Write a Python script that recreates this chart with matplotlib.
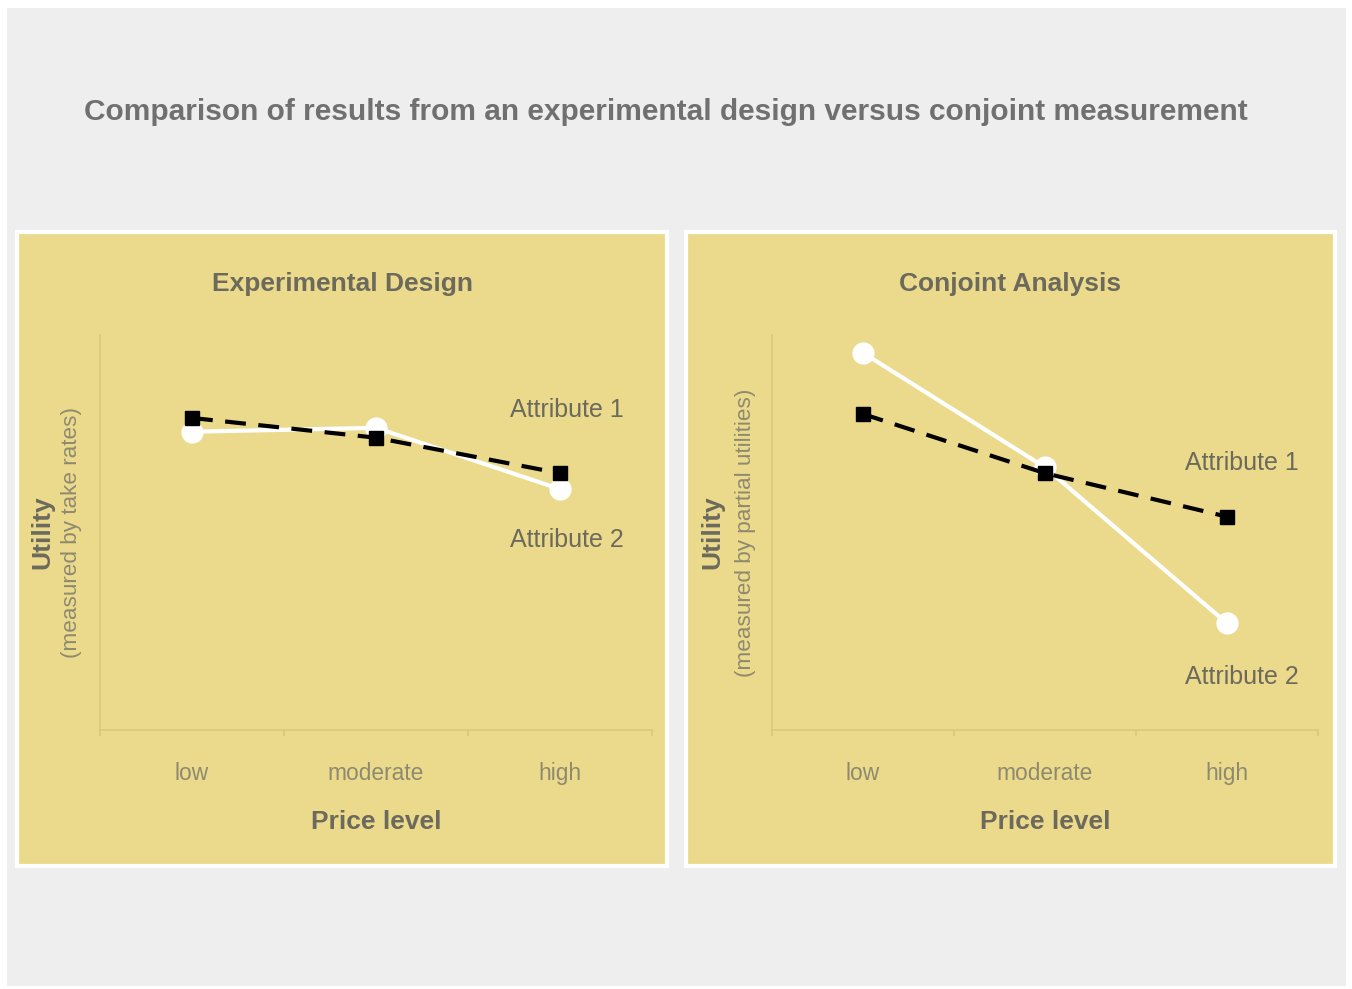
import matplotlib
matplotlib.use("Agg")
import matplotlib.pyplot as plt
from matplotlib.patches import Rectangle

W, H = 1352, 989

CATEGORIES = ["low", "moderate", "high"]
PANEL_TITLES = ["Experimental Design", "Conjoint Analysis"]
Y_SUBLABELS = ["(measured by take rates)", "(measured by partial utilities)"]
# utility on an arbitrary 0-10 scale
ATTR1 = [[7.9, 7.4, 6.5], [8.0, 6.5, 5.4]]
ATTR2 = [[7.55, 7.65, 6.1], [9.55, 6.65, 2.7]]
LABEL_POS = [[(1.73, 8.1), (1.73, 4.8)], [(1.77, 6.75), (1.77, 1.35)]]

YELLOW = "#ecda8c"
TEXT = "#6c6a5c"
TICK_TXT = "#8e8a70"
AXIS = "#d9c77c"

plt.rcParams["font.family"] = ["Liberation Sans", "DejaVu Sans"]

fig = plt.figure(figsize=(W / 100, H / 100), dpi=100, facecolor="white")


def px_rect(x0, y0, x1, y1, **kw):
    # pixel box (top-left origin) -> figure fraction rectangle
    return Rectangle((x0 / W, 1 - y1 / H), (x1 - x0) / W, (y1 - y0) / H,
                     transform=fig.transFigure, **kw)


fig.patches.append(px_rect(7, 8, 1346, 986, facecolor="#eeeeee", edgecolor="none", zorder=-3))
fig.text(666 / W, 1 - 112 / H,
         "Comparison of results from an experimental design versus conjoint measurement",
         ha="center", va="center", fontsize=21.5, fontweight="bold", color="#707070")

panels = [(17, 667, 100, 652), (686, 1335, 772, 1318)]
for i, (p0, p1, a0, a1) in enumerate(panels):
    fig.patches.append(px_rect(p0, 232, p1, 866, facecolor=YELLOW, edgecolor="white",
                               lw=3, zorder=-2))
    fig.text((p0 + p1) / 2 / W, 1 - 284 / H, PANEL_TITLES[i], ha="center", va="center",
             fontsize=19, fontweight="bold", color=TEXT)

    ax = fig.add_axes([a0 / W, 1 - 730 / H, (a1 - a0) / W, 395 / H])
    ax.set_facecolor("none")
    ax.set_xlim(-0.5, 2.5)
    ax.set_ylim(0, 10)
    for s in ("top", "right"):
        ax.spines[s].set_visible(False)
    for s in ("left", "bottom"):
        ax.spines[s].set_color(AXIS)
        ax.spines[s].set_linewidth(1.2)
    ax.set_yticks([])
    ax.set_xticks([-0.5, 0.5, 1.5, 2.5], ["", "", "", ""])
    ax.tick_params(axis="x", which="major", length=4, color=AXIS, width=1.2)
    ax.set_xticks([0, 1, 2], CATEGORIES, minor=True)
    ax.tick_params(axis="x", which="minor", length=0, pad=23, labelsize=16.4,
                   labelcolor=TICK_TXT)

    x = range(len(CATEGORIES))
    ax.plot(x, ATTR2[i], "-o", color="white", lw=3, ms=15, mec="white", zorder=3,
            clip_on=False)
    ax.plot(x, ATTR1[i], "--s", color="black", lw=3, ms=10, dashes=(5, 3), zorder=4,
            clip_on=False)
    for j, (lx, ly) in enumerate(LABEL_POS[i]):
        ax.text(lx, ly, f"Attribute {j + 1}", ha="left", va="center", fontsize=18,
                color=TEXT)

    aw = a1 - a0
    off = 0 if i == 0 else 670
    ax.text((42 + off - a0) / aw, 0.5, "Utility", transform=ax.transAxes, rotation=90,
            ha="center", va="center", fontsize=19, fontweight="bold", color=TEXT)
    ax.text((72 + off + 4 * i - a0) / aw, 0.5, Y_SUBLABELS[i],
            transform=ax.transAxes, rotation=90, ha="center", va="center",
            fontsize=16.2, color=TICK_TXT)
    ax.text(0.5, (730 - 822) / 395, "Price level", transform=ax.transAxes,
            ha="center", va="center", fontsize=19, fontweight="bold", color=TEXT)

fig.savefig("out.png", dpi=100, facecolor=fig.get_facecolor())
